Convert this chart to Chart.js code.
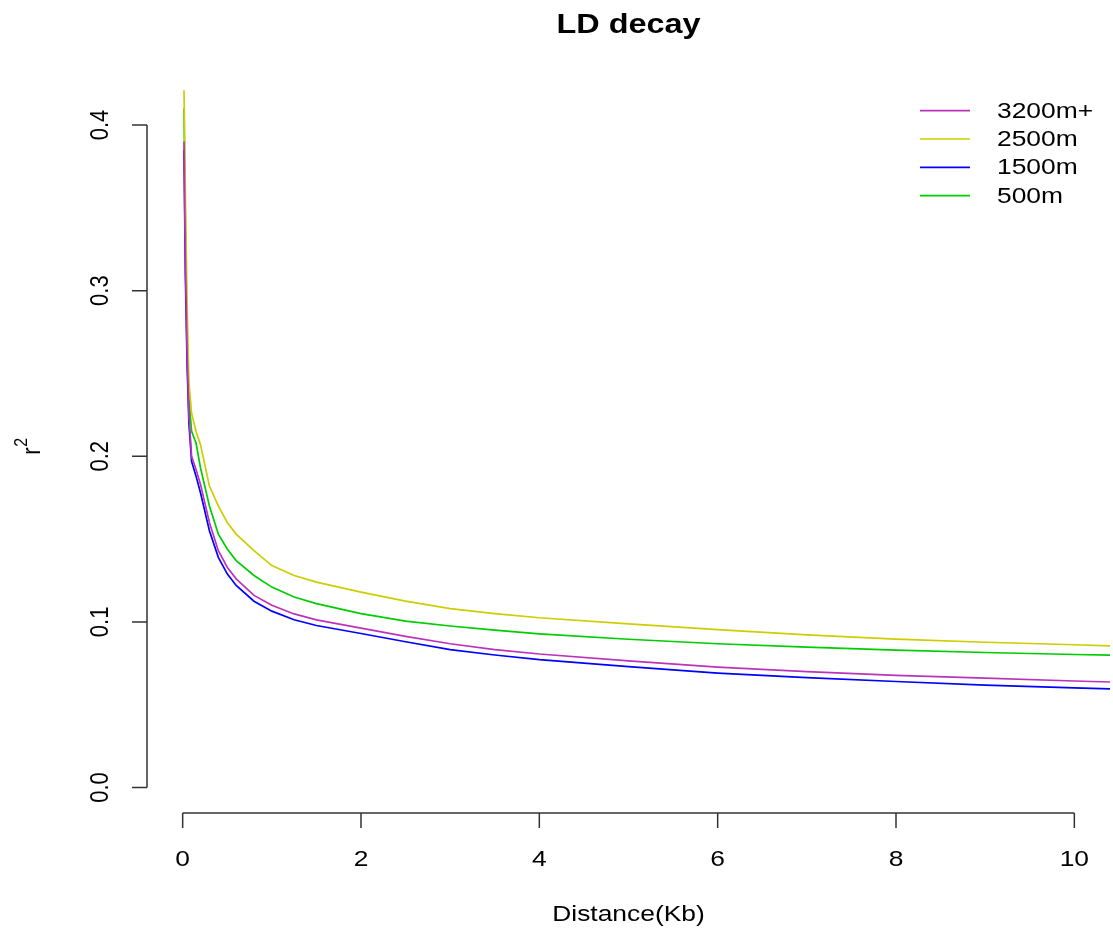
<!DOCTYPE html>
<html>
<head>
<meta charset="utf-8">
<script src="https://cdn.jsdelivr.net/npm/chart.js@4"></script>
<style>
html,body{margin:0;padding:0;background:#fff;}
canvas{display:block;}
</style>
</head>
<body>
<canvas id="c" width="1113" height="929"></canvas>
<script>
const distanceKb = [0.015, 0.03, 0.05, 0.07, 0.1, 0.15, 0.2, 0.3, 0.4, 0.5, 0.6, 0.8, 1.0, 1.25, 1.5, 2, 2.5, 3, 3.5, 4, 5, 6, 7, 8, 9, 10, 10.4];
const r2_3200 = [0.390, 0.320, 0.262, 0.225, 0.200, 0.192, 0.183, 0.160, 0.143, 0.133, 0.126, 0.116, 0.110, 0.1048, 0.1012, 0.0962, 0.0912, 0.0868, 0.0833, 0.0806, 0.0765, 0.0727, 0.0700, 0.0677, 0.0660, 0.0643, 0.0637];
const r2_2500 = [0.421, 0.360, 0.290, 0.245, 0.226, 0.215, 0.207, 0.182, 0.170, 0.160, 0.153, 0.143, 0.134, 0.128, 0.124, 0.118, 0.1125, 0.108, 0.105, 0.1025, 0.0988, 0.0953, 0.0922, 0.0896, 0.0877, 0.0862, 0.0855];
const r2_1500 = [0.385, 0.310, 0.255, 0.220, 0.197, 0.188, 0.178, 0.155, 0.139, 0.129, 0.122, 0.1125, 0.1065, 0.1013, 0.0978, 0.0930, 0.0880, 0.0833, 0.0800, 0.0772, 0.0730, 0.0691, 0.0663, 0.0640, 0.0618, 0.0601, 0.0595];
const r2_500  = [0.410, 0.340, 0.270, 0.235, 0.215, 0.208, 0.193, 0.170, 0.153, 0.144, 0.137, 0.128, 0.121, 0.115, 0.111, 0.105, 0.1005, 0.0975, 0.0950, 0.0928, 0.0895, 0.0868, 0.0848, 0.0830, 0.0815, 0.0803, 0.0799];
const seriesNames = ["3200m+", "2500m", "1500m", "500m"];
const seriesColors = ["#BB33BB", "#CDCD00", "#0000FF", "#00CD00"];
const xTicks = [0, 2, 4, 6, 8, 10];
const yTicks = [0.0, 0.1, 0.2, 0.3, 0.4];
const yTickLabels = ["0.0", "0.1", "0.2", "0.3", "0.4"];
const titleText = "LD decay";
const xTitle = "Distance(Kb)";

const allSeries = [r2_3200, r2_2500, r2_1500, r2_500];
const FONT = "'Liberation Sans', Arial, sans-serif";
const SX = 1.2; // horizontal stretch of the reference text

function txt(ctx, s, x, y, rotated) {
  ctx.save();
  ctx.translate(x, y);
  ctx.scale(SX, 1);
  if (rotated) ctx.rotate(-Math.PI / 2);
  ctx.fillText(s, 0, 0);
  ctx.restore();
}

const rAxes = {
  id: 'rAxes',
  afterDraw(chart) {
    const ctx = chart.ctx;
    const xs = chart.scales.x, ys = chart.scales.y;
    const area = chart.chartArea;
    ctx.save();
    ctx.strokeStyle = '#333';
    ctx.lineWidth = 1.5;
    ctx.fillStyle = '#000';
    // x axis
    const axY = area.bottom;
    ctx.beginPath();
    ctx.moveTo(xs.getPixelForValue(xTicks[0]), axY);
    ctx.lineTo(xs.getPixelForValue(xTicks[xTicks.length-1]), axY);
    xTicks.forEach(t => {
      const px = xs.getPixelForValue(t);
      ctx.moveTo(px, axY); ctx.lineTo(px, axY + 15);
    });
    ctx.stroke();
    ctx.font = '22px ' + FONT;
    ctx.textAlign = 'center';
    ctx.textBaseline = 'alphabetic';
    xTicks.forEach(t => txt(ctx, String(t), xs.getPixelForValue(t), 866, false));
    // y axis
    const axX = area.left;
    ctx.beginPath();
    ctx.moveTo(axX, ys.getPixelForValue(yTicks[0]));
    ctx.lineTo(axX, ys.getPixelForValue(yTicks[yTicks.length-1]));
    yTicks.forEach(t => {
      const py = ys.getPixelForValue(t);
      ctx.moveTo(axX, py); ctx.lineTo(axX - 15, py);
    });
    ctx.stroke();
    yTicks.forEach((t, i) => txt(ctx, yTickLabels[i], 108, ys.getPixelForValue(t), true));
    // y title r^2
    const cy = (area.top + area.bottom) / 2;
    ctx.save();
    ctx.translate(40, cy);
    ctx.scale(SX, 1);
    ctx.rotate(-Math.PI/2);
    ctx.textAlign = 'left';
    ctx.font = '22px ' + FONT;
    const rw = ctx.measureText('r').width;
    const total = rw + 9;
    ctx.fillText('r', -total/2, 0);
    ctx.font = '16px ' + FONT;
    ctx.fillText('2', -total/2 + rw + 0.5, -11);
    ctx.restore();
    // x title
    ctx.font = '22px ' + FONT;
    ctx.textAlign = 'center';
    txt(ctx, xTitle, (area.left + area.right)/2, 921, false);
    // main title
    ctx.font = 'bold 27px ' + FONT;
    txt(ctx, titleText, (area.left + area.right)/2, 33, false);
    // legend
    ctx.font = '22px ' + FONT;
    ctx.textAlign = 'left';
    ctx.textBaseline = 'middle';
    seriesNames.forEach((n, i) => {
      const ly = 110.7 + i * 28.3;
      ctx.strokeStyle = seriesColors[i];
      ctx.lineWidth = 1.7;
      ctx.beginPath();
      ctx.moveTo(920, ly); ctx.lineTo(970, ly);
      ctx.stroke();
      ctx.fillStyle = '#000';
      txt(ctx, n, 997, ly + 1, false);
    });
    ctx.restore();
  }
};

new Chart(document.getElementById('c'), {
  type: 'scatter',
  data: {
    datasets: allSeries.map((s, i) => ({
      label: seriesNames[i],
      data: distanceKb.map((x, j) => ({x: x, y: s[j]})),
      showLine: true,
      borderColor: seriesColors[i],
      backgroundColor: seriesColors[i],
      borderWidth: 1.7,
      pointRadius: 0,
      tension: 0,
      fill: false
    }))
  },
  options: {
    responsive: false,
    devicePixelRatio: 1,
    animation: false,
    layout: { padding: { left: 147, right: 3, top: 80, bottom: 116 } },
    plugins: { legend: { display: false }, title: { display: false }, tooltip: { enabled: false } },
    scales: {
      x: { type: 'linear', display: false, min: -0.4, max: 10.4 },
      y: { type: 'linear', display: false, min: -0.0154, max: 0.4272 }
    }
  },
  plugins: [rAxes]
});
</script>
</body>
</html>
